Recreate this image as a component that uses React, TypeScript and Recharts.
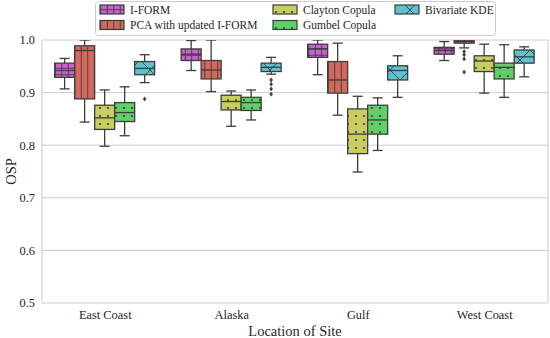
import React from "react";
import { ComposedChart, Bar, XAxis, YAxis, CartesianGrid } from "recharts";

// box stats per site: [whiskerLow, q1, median, q3, whiskerHigh]
const categories = ["East Coast", "Alaska", "Gulf", "West Coast"];
const seriesNames = ["I-FORM", "PCA with updated I-FORM", "Clayton Copula", "Gumbel Copula", "Bivariate KDE"];

const iformStats = [
  [0.907, 0.929, 0.942, 0.956, 0.965],
  [0.942, 0.961, 0.973, 0.983, 0.999],
  [0.934, 0.967, 0.983, 0.992, 1.0],
  [0.961, 0.973, 0.98, 0.986, 0.997],
];
const pcaStats = [
  [0.844, 0.888, 0.98, 0.989, 1.0],
  [0.902, 0.926, 0.943, 0.961, 1.0],
  [0.857, 0.899, 0.924, 0.959, 0.994],
  [0.985, 0.994, 0.997, 1.0, 1.0],
];
const claytonStats = [
  [0.798, 0.83, 0.852, 0.876, 0.905],
  [0.836, 0.867, 0.883, 0.895, 0.903],
  [0.749, 0.784, 0.821, 0.869, 0.893],
  [0.899, 0.94, 0.96, 0.97, 0.992],
];
const gumbelStats = [
  [0.818, 0.845, 0.862, 0.881, 0.911],
  [0.848, 0.866, 0.881, 0.891, 0.905],
  [0.79, 0.821, 0.848, 0.876, 0.89],
  [0.891, 0.926, 0.948, 0.956, 0.991],
];
const kdeStats = [
  [0.919, 0.934, 0.946, 0.959, 0.972],
  [0.935, 0.94, 0.948, 0.956, 0.967],
  [0.891, 0.924, 0.942, 0.951, 0.97],
  [0.93, 0.956, 0.968, 0.981, 0.987],
];

const iformOutliers = [[], [], [], []];
const pcaOutliers = [[], [], [], [0.978, 0.972, 0.964, 0.939]];
const claytonOutliers = [[], [], [], []];
const gumbelOutliers = [[], [], [], []];
const kdeOutliers = [[0.888], [0.924, 0.916, 0.907, 0.897], [], []];

const yTicks = [0.5, 0.6, 0.7, 0.8, 0.9, 1.0];

const allStats = [iformStats, pcaStats, claytonStats, gumbelStats, kdeStats];
const allOutliers = [iformOutliers, pcaOutliers, claytonOutliers, gumbelOutliers, kdeOutliers];
const colors = ["#cd60cf", "#d3695c", "#c9cd5f", "#60cf68", "#5cc3ce"];
const patternIds = ["hatch-plus", "hatch-vline", "hatch-dot-a", "hatch-dot-b", "hatch-x"];

const data = categories.map((name, c) => ({
  name,
  stats: allStats.map((s) => s[c]),
  outliers: allOutliers.map((o) => o[c]),
}));

const EDGE = "#3d3d3d";
const FONT = "'Liberation Serif', 'DejaVu Serif', serif";

function Patterns() {
  return (
    <defs>
      <pattern id="hatch-plus" patternUnits="userSpaceOnUse" width={6.5} height={6.5}>
        <rect width={6.5} height={6.5} fill={colors[0]} />
        <line x1={3.25} y1={0} x2={3.25} y2={6.5} stroke={EDGE} strokeWidth={0.9} />
        <line x1={0} y1={3.25} x2={6.5} y2={3.25} stroke={EDGE} strokeWidth={0.9} />
      </pattern>
      <pattern id="hatch-vline" patternUnits="userSpaceOnUse" width={6.5} height={6.5}>
        <rect width={6.5} height={6.5} fill={colors[1]} />
        <line x1={3.25} y1={0} x2={3.25} y2={6.5} stroke={EDGE} strokeWidth={0.9} />
      </pattern>
      <pattern id="hatch-dot-a" patternUnits="userSpaceOnUse" width={8} height={8}>
        <rect width={8} height={8} fill={colors[2]} />
        <circle cx={4} cy={4} r={1.1} fill={EDGE} />
      </pattern>
      <pattern id="hatch-dot-b" patternUnits="userSpaceOnUse" width={8} height={8}>
        <rect width={8} height={8} fill={colors[3]} />
        <circle cx={4} cy={4} r={1.1} fill={EDGE} />
      </pattern>
      <pattern id="hatch-x" patternUnits="userSpaceOnUse" width={20} height={20}>
        <rect width={20} height={20} fill={colors[4]} />
        <line x1={0} y1={0} x2={20} y2={20} stroke={EDGE} strokeWidth={0.9} />
        <line x1={20} y1={0} x2={0} y2={20} stroke={EDGE} strokeWidth={0.9} />
      </pattern>
    </defs>
  );
}

function makeBox(s: number) {
  return function BoxShape(props: any) {
    const { x, y, width, height, payload } = props;
    const [lo, q1, med, q3, hi] = payload.stats[s];
    const outs: number[] = payload.outliers[s];
    const ppu = height / (hi - lo);
    const py = (v: number) => y + (hi - v) * ppu;
    const cx = x + width / 2;
    const capW = width / 4;
    return (
      <g>
        <line x1={cx} y1={py(hi)} x2={cx} y2={py(q3)} stroke={EDGE} strokeWidth={1.3} />
        <line x1={cx} y1={py(q1)} x2={cx} y2={py(lo)} stroke={EDGE} strokeWidth={1.3} />
        <line x1={cx - capW} y1={py(hi)} x2={cx + capW} y2={py(hi)} stroke={EDGE} strokeWidth={1.3} />
        <line x1={cx - capW} y1={py(lo)} x2={cx + capW} y2={py(lo)} stroke={EDGE} strokeWidth={1.3} />
        <rect
          x={x}
          y={py(q3)}
          width={width}
          height={Math.max(py(q1) - py(q3), 0.5)}
          fill={`url(#${patternIds[s]})`}
          stroke={EDGE}
          strokeWidth={1.3}
        />
        <line x1={x} y1={py(med)} x2={x + width} y2={py(med)} stroke={EDGE} strokeWidth={1.3} />
        {outs.map((v, i) => (
          <path
            key={i}
            d={`M${cx},${py(v) - 2.4}L${cx + 1.8},${py(v)}L${cx},${py(v) + 2.4}L${cx - 1.8},${py(v)}Z`}
            fill={EDGE}
          />
        ))}
      </g>
    );
  };
}

function YLabel(props: any) {
  const vb = props.viewBox || { x: 0, y: 40, width: 42, height: 263 };
  const cx = 11;
  const cy = vb.y + vb.height / 2;
  return (
    <text
      x={cx}
      y={cy}
      transform={`rotate(-90 ${cx} ${cy})`}
      textAnchor="middle"
      dominantBaseline="central"
      fontSize={14.5}
      fontFamily={FONT}
      fill="#262626"
    >
      OSP
    </text>
  );
}

const legendCols = [
  [100, 130],
  [273, 303],
  [395, 425],
];
const legendRows = [9.5, 25];
const legendSlots = [
  [0, 0],
  [0, 1],
  [1, 0],
  [1, 1],
  [2, 0],
];

function LegendBox() {
  return (
    <svg width={550} height={40} style={{ position: "absolute", left: 0, top: 0 }}>
      <rect x={95.5} y={1.5} width={400} height={34} rx={3} fill="#ffffff" fillOpacity={0.85} stroke="#cccccc" />
      {seriesNames.map((name, i) => {
        const [col, row] = legendSlots[i];
        const [px, tx] = legendCols[col];
        const ly = legendRows[row];
        return (
          <g key={name}>
            <rect x={px} y={ly - 4.5} width={24} height={9} fill={`url(#${patternIds[i]})`} stroke={EDGE} strokeWidth={1.2} />
            <text x={tx} y={ly} dominantBaseline="central" fontSize={11.5} fontFamily={FONT} fill="#262626">
              {name}
            </text>
          </g>
        );
      })}
    </svg>
  );
}

export default function App() {
  return (
    <div style={{ position: "relative", width: 550, height: 338, background: "#fff" }}>
      <style>{"body{margin:0}"}</style>
      <ComposedChart
        width={550}
        height={338}
        data={data}
        margin={{ top: 40, right: 2, bottom: 0, left: 0 }}
        barCategoryGap="10%"
        barGap={0}
      >
        <Patterns />
        <CartesianGrid
          stroke="#cccccc"
          strokeWidth={1}
          verticalCoordinatesGenerator={(p: any) => [p.offset.left, p.offset.left + p.offset.width]}
        />
        <XAxis
          dataKey="name"
          tickLine={false}
          axisLine={false}
          tickSize={0}
          tickMargin={7}
          height={35}
          tick={{ fontSize: 12.4, fontFamily: FONT, fill: "#262626" }}
          label={{ value: "Location of Site", position: "insideBottom", offset: 2, fontSize: 14.5, fontFamily: FONT, fill: "#262626" }}
        />
        <YAxis
          domain={[0.5, 1.0]}
          ticks={yTicks}
          allowDataOverflow
          width={42}
          tickLine={false}
          axisLine={false}
          tickSize={0}
          tickMargin={7}
          tickFormatter={(v: number) => v.toFixed(1)}
          tick={{ fontSize: 12.4, fontFamily: FONT, fill: "#262626" }}
          label={<YLabel />}
        />
        {seriesNames.map((name, i) => (
          <Bar
            key={name}
            name={name}
            dataKey={(d: any) => [d.stats[i][0], d.stats[i][4]]}
            shape={makeBox(i)}
            isAnimationActive={false}
          />
        ))}
      </ComposedChart>
      <LegendBox />
    </div>
  );
}
